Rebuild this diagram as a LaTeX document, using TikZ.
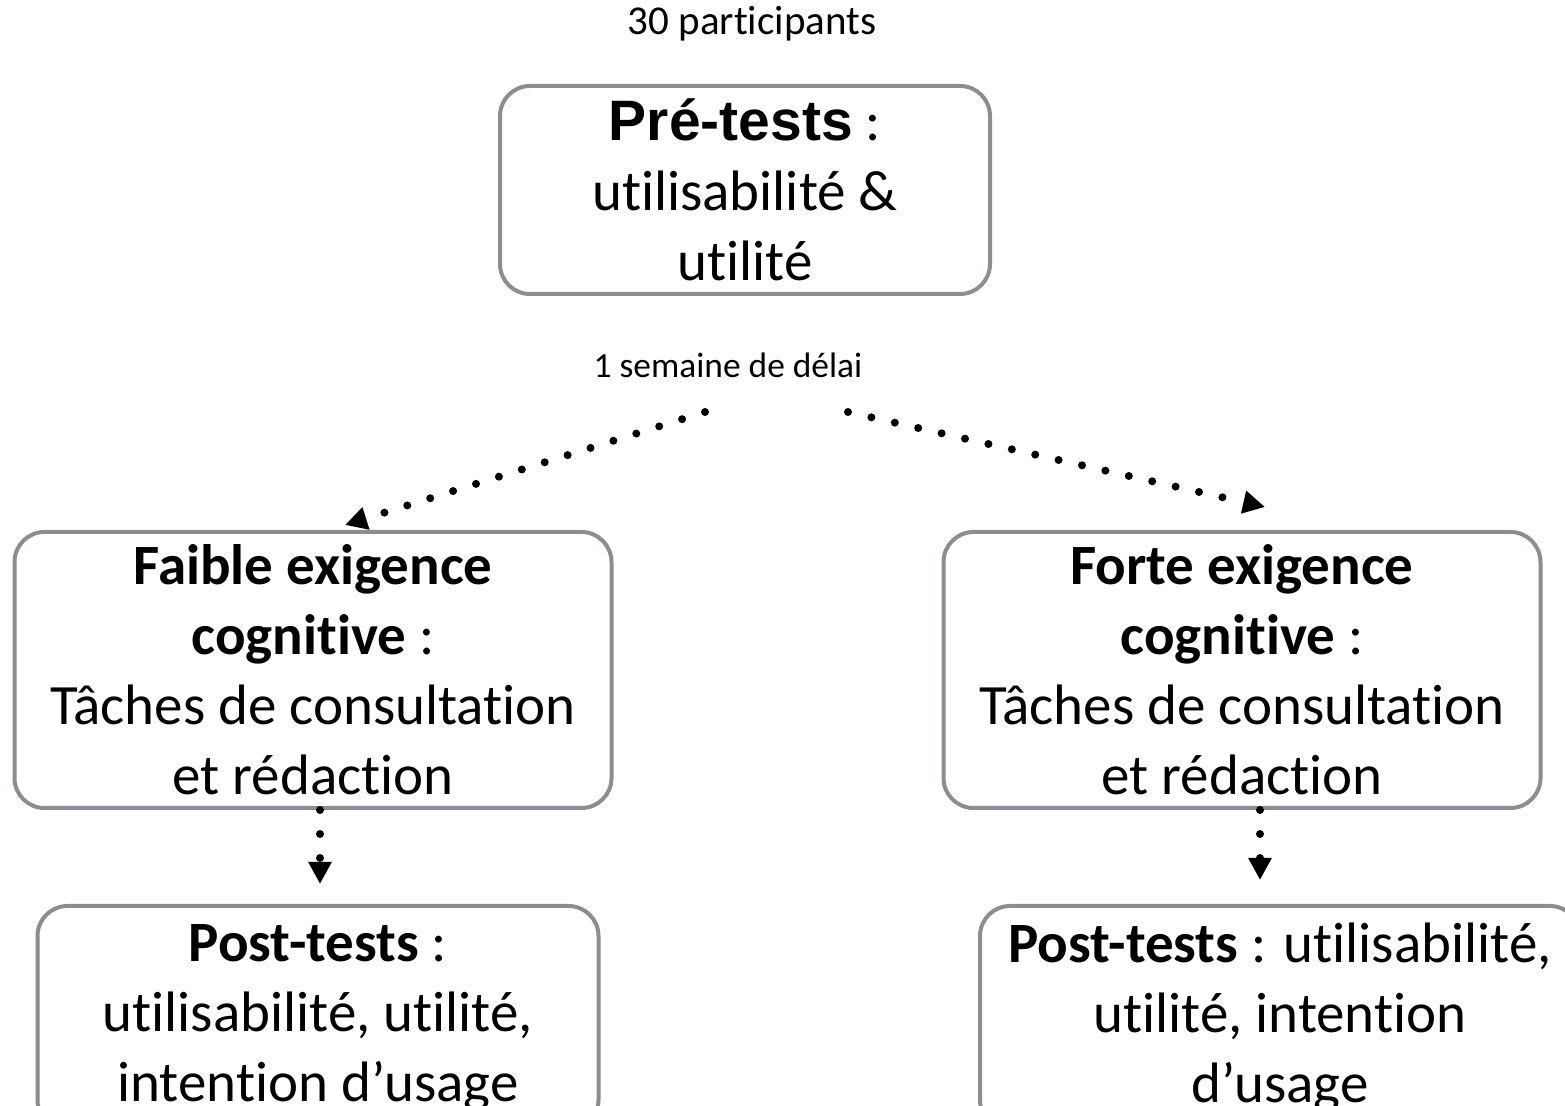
\documentclass[tikz,border=0pt]{standalone}
\usepackage{fontspec}
\setmainfont{Carlito}[Ligatures={NoCommon,NoContextual}]
\newfontfamily\arialfont{Liberation Sans}
\usetikzlibrary{positioning,arrows.meta}
\definecolor{boxgray}{RGB}{138,141,145}

\begin{document}
\begin{tikzpicture}
		[x=0.5pt,y=-0.5pt,
		 box/.style={draw=boxgray,line width=2pt,rounded corners=15pt,align=center,inner sep=0pt,
		   font=\fontsize{28.5}{35}\selectfont},
		 flow/.style={line width=4pt,line cap=round,dash pattern=on 0pt off 12pt,
		   -{Triangle[length=11pt,width=11pt]}}]
		\useasboundingbox (0,0) rectangle (1565,1106);
		\clip (0,0) rectangle (1565,1106);

		% draw the top labels and the pre-test box
		\node (nb) at (752,24) {\fontsize{20.5}{24}\selectfont 30 participants};
		\node [box,minimum width=245pt,minimum height=104pt] (pre) at (745,190)
			{{\arialfont\bfseries Pré-tests} :\\ utilisabilité \&\\ utilité};
		\node (delai) at (728,365) {\fontsize{17.7}{21}\selectfont 1 semaine de délai};

		% draw the two conditions
		\node [box,minimum width=298.5pt,minimum height=138pt] (faible) at (313,670)
			{\textbf{Faible exigence}\\ \textbf{cognitive} :\\ Tâches de consultation\\ et rédaction};
		\node [box,minimum width=298.5pt,minimum height=138pt] (forte) at (1242,670)
			{\textbf{Forte exigence}\\ \textbf{cognitive} :\\ Tâches de consultation\\ et rédaction};

		% draw the post-test boxes
		\node [box,minimum width=280.5pt,minimum height=112pt] (postA) at (318,1018)
			{\textbf{Post-tests} :\\ utilisabilité, utilité,\\ intention d’usage};
		\node [box,minimum width=300pt,minimum height=112pt] (postB) at (1280,1018)
			{\textbf{Post-tests} : utilisabilité,\\ utilité, intention\\ d’usage};

		% draw the arrows
		\coordinate (startA) at (705,412);
		\coordinate (startB) at (848,412);
		\coordinate (endA) at (345,525);
		\coordinate (endB) at (1265,507);
		\draw [flow] (startA) -- (endA);
		\draw [flow] (startB) -- (endB);
		\draw [flow,shorten >=10pt] (faible.south -| 320,0) -- (postA.north -| 320,0);
		\draw [flow,shorten >=12pt] (forte.south -| 1260,0) -- (postB.north -| 1260,0);
	\end{tikzpicture}
\end{document}
